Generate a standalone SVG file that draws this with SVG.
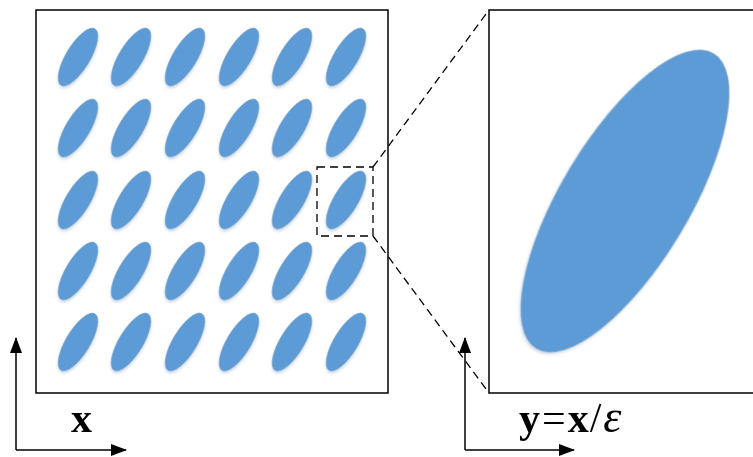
<svg xmlns="http://www.w3.org/2000/svg" width="753" height="457" viewBox="0 0 753 457">
<defs>
<filter id="soft" x="-20%" y="-20%" width="140%" height="140%">
<feGaussianBlur in="SourceAlpha" stdDeviation="1.5"/>
<feOffset dx="0" dy="1.5" result="b"/>
<feFlood flood-color="#9fb8d8" flood-opacity="0.6"/>
<feComposite in2="b" operator="in" result="s"/>
<feMerge><feMergeNode in="s"/><feMergeNode in="SourceGraphic"/></feMerge>
</filter>
<ellipse id="e" cx="0" cy="0" rx="12" ry="33" transform="rotate(31)"/>
<marker id="ah" viewBox="0 0 16 12" refX="15" refY="6" markerWidth="16" markerHeight="12" markerUnits="userSpaceOnUse" orient="auto">
<path d="M0,0 L16,6 L0,12 Z" fill="#000"/>
</marker>
</defs>
<style>
.box{fill:#fff;stroke:#000;stroke-width:1.5}
.ell{fill:#5b9bd5;stroke:#8aa6c6;stroke-width:0.6;filter:url(#soft)}
.dash{fill:none;stroke:#000;stroke-width:1.3;stroke-dasharray:8,5}
.ax{fill:none;stroke:#000;stroke-width:1.5;marker-end:url(#ah)}
.lbl{font-family:"Liberation Serif","DejaVu Serif",serif;font-size:42px;fill:#000}
</style>
<rect width="753" height="457" fill="#fff"/>
<g id="domain">
<rect class="box" x="36" y="10" width="352" height="383"/>
<g class="ell">
<use href="#e" x="78" y="57"/><use href="#e" x="131" y="57"/><use href="#e" x="185" y="57"/><use href="#e" x="239" y="57"/><use href="#e" x="292" y="57"/><use href="#e" x="346" y="57"/>
<use href="#e" x="78" y="128"/><use href="#e" x="131" y="128"/><use href="#e" x="185" y="128"/><use href="#e" x="239" y="128"/><use href="#e" x="292" y="128"/><use href="#e" x="346" y="128"/>
<use href="#e" x="78" y="200"/><use href="#e" x="131" y="200"/><use href="#e" x="185" y="200"/><use href="#e" x="239" y="200"/><use href="#e" x="292" y="200"/><use href="#e" x="346" y="200"/>
<use href="#e" x="78" y="271"/><use href="#e" x="131" y="271"/><use href="#e" x="185" y="271"/><use href="#e" x="239" y="271"/><use href="#e" x="292" y="271"/><use href="#e" x="346" y="271"/>
<use href="#e" x="78" y="342"/><use href="#e" x="131" y="342"/><use href="#e" x="185" y="342"/><use href="#e" x="239" y="342"/><use href="#e" x="292" y="342"/><use href="#e" x="346" y="342"/>
</g>
</g>
<g id="zoomcell">
<rect class="box" x="489" y="10" width="280" height="383"/>
<ellipse class="ell" cx="625" cy="201" rx="64" ry="172" transform="rotate(31 625 201)"/>
</g>
<g id="connectors">
<rect class="dash" x="317" y="167" width="56" height="69"/>
<line class="dash" x1="373" y1="167" x2="489" y2="10"/>
<line class="dash" x1="373" y1="236" x2="489" y2="393"/>
<line class="ax" x1="16" y1="450" x2="16" y2="338"/>
<line class="ax" x1="16" y1="450" x2="126" y2="450"/>
<line class="ax" x1="465" y1="450" x2="465" y2="338"/>
<line class="ax" x1="465" y1="450" x2="574" y2="450"/>
</g>
<g id="labels">
<text class="lbl" x="71" y="432" font-weight="bold">x</text>
<text class="lbl" x="519" y="432"><tspan font-weight="bold">y</tspan><tspan dx="2">=</tspan><tspan dx="2" font-weight="bold">x</tspan><tspan dx="1">/</tspan><tspan dx="2" font-style="italic" font-size="46">ε</tspan></text>
</g>
</svg>
